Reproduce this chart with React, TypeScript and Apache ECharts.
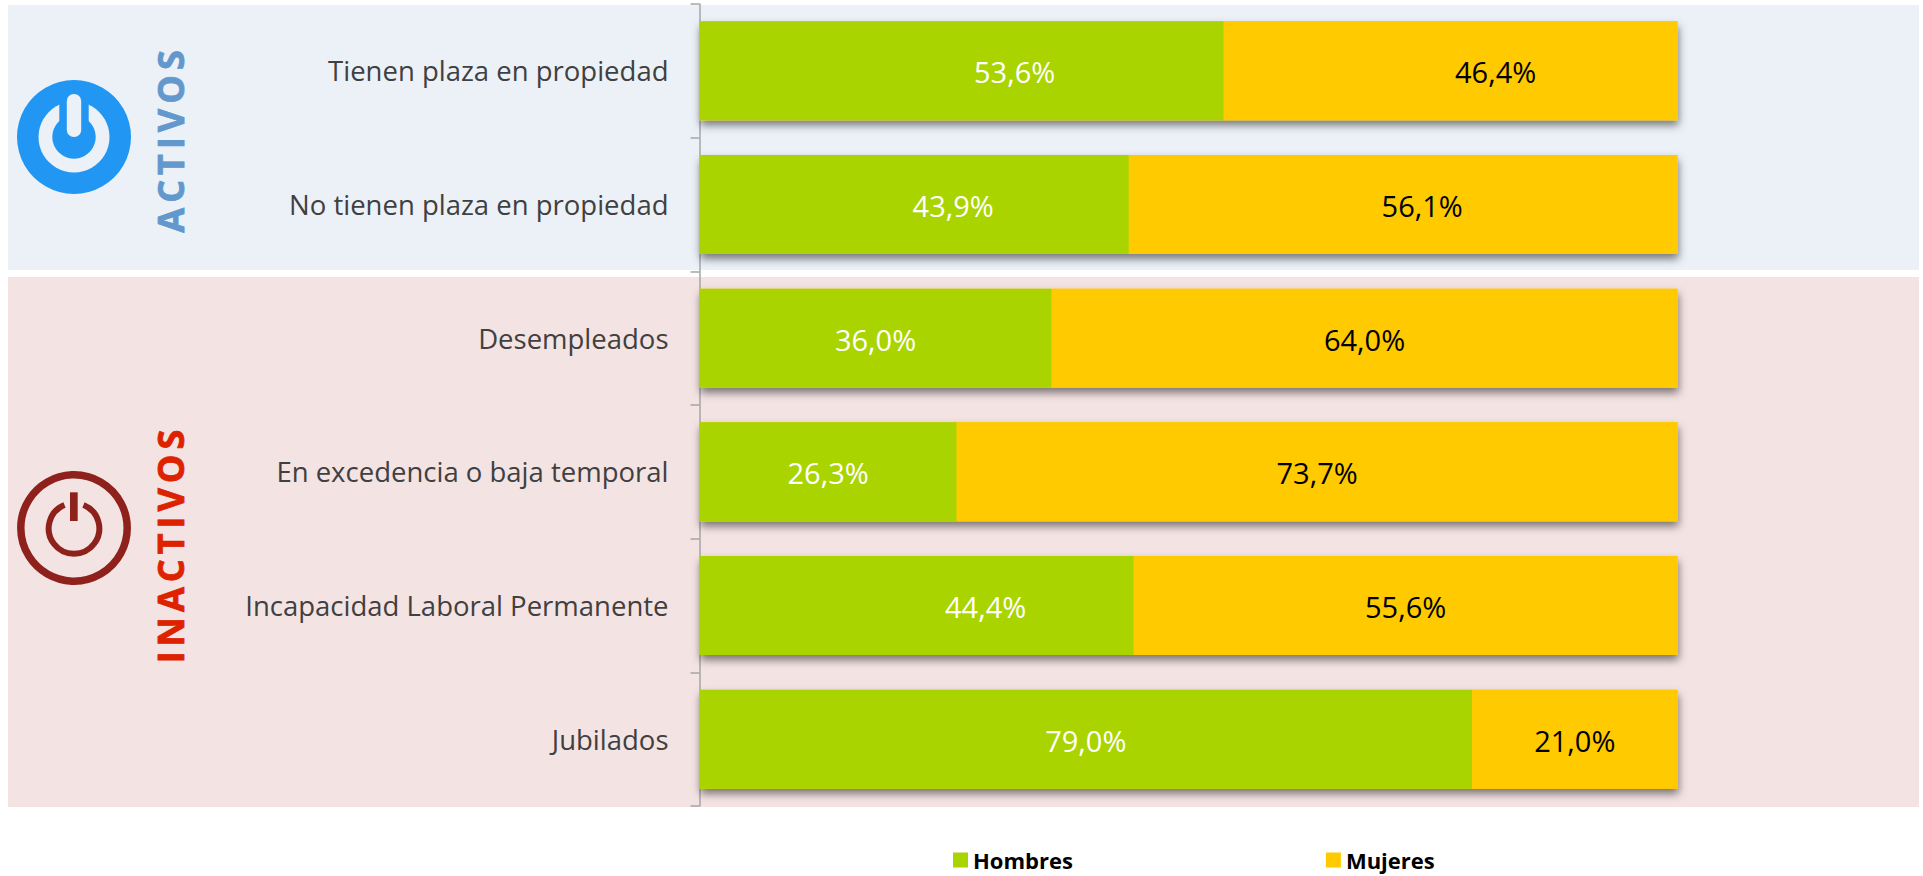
import React, { useEffect, useRef } from "react";
import * as echarts from "echarts";

const categories = [
  "Tienen plaza en propiedad",
  "No tienen plaza en propiedad",
  "Desempleados",
  "En excedencia o baja temporal",
  "Incapacidad Laboral Permanente",
  "Jubilados",
];
const hombres = [53.6, 43.9, 36.0, 26.3, 44.4, 79.0];
const mujeres = [46.4, 56.1, 64.0, 73.7, 55.6, 21.0];
const hombresLabelShift = [53, 39, 0, 0, 69, 0];
const mujeresLabelShift = [45, 19, 0, 0, 0, 0];

const BLUE_BG = "#ECF1F8";
const PINK_BG = "#F4E3E3";
const BLUE = "#2196F3";
const RED = "#8E211B";
const FONT = "'Open Sans', sans-serif";

const fmt = (v: number) => v.toFixed(1).replace(".", ",") + "%";
const deg = Math.PI / 180;

const sideText = (text: string, y: number, color: string) => ({
  type: "text",
  x: 170,
  y,
  rotation: Math.PI / 2,
  z: -1,
  style: {
    text,
    fill: color,
    stroke: color,
    lineWidth: 0.8,
    font: `bold 36px ${FONT}`,
    align: "center",
    verticalAlign: "middle",
  },
});

export default function App() {
  const ref = useRef<HTMLDivElement>(null);
  useEffect(() => {
    const chart = echarts.init(ref.current!, null, { renderer: "svg" });
    chart.setOption({
      animation: false,
      backgroundColor: "#fff",
      grid: { left: 699.5, width: 978, top: 4, height: 802 },
      legend: {
        left: 953,
        top: 849,
        padding: 0,
        itemWidth: 15,
        itemHeight: 15,
        itemGap: 253,
        selectedMode: false,
        textStyle: { fontFamily: FONT, fontSize: 22, fontWeight: "bold", color: "#000" },
        data: [
          { name: "Hombres", icon: "rect" },
          { name: "Mujeres", icon: "rect" },
        ],
      },
      xAxis: { type: "value", min: 0, max: 100, show: false },
      yAxis: {
        type: "category",
        inverse: true,
        data: categories,
        axisLine: { show: true, lineStyle: { color: "#A6A6A6", width: 1.5 } },
        axisTick: { show: true, length: 9, lineStyle: { color: "#A6A6A6", width: 1.5 } },
        axisLabel: {
          margin: 31,
          fontFamily: FONT,
          fontSize: 27.5,
          color: "#404040",
          verticalAlign: "top",
          padding: [-14, 0, 0, 0],
        },
      },
      series: [
        {
          name: "Total",
          type: "bar",
          barWidth: 99,
          barGap: "-100%",
          silent: true,
          itemStyle: {
            color: "#FFCA00",
            shadowColor: "rgba(0,0,0,0.5)",
            shadowBlur: 8,
            shadowOffsetX: 1,
            shadowOffsetY: 5,
          },
          data: hombres.map((h, i) => h + mujeres[i]),
        },
        {
          name: "Hombres",
          type: "bar",
          stack: "t",
          barWidth: 99,
          barGap: "-100%",
          itemStyle: { color: "#A9D400" },
          label: { show: true, position: "inside", color: "#fff", fontFamily: FONT, fontSize: 29, formatter: (p: any) => fmt(p.value) },
          data: hombres.map((value, i) => ({ value, label: { offset: [hombresLabelShift[i], 1] } })),
        },
        {
          name: "Mujeres",
          type: "bar",
          stack: "t",
          barWidth: 99,
          barGap: "-100%",
          itemStyle: { color: "#FFCA00" },
          label: { show: true, position: "inside", color: "#000", fontFamily: FONT, fontSize: 29, formatter: (p: any) => fmt(p.value) },
          data: mujeres.map((value, i) => ({ value, label: { offset: [mujeresLabelShift[i], 1] } })),
        },
      ],
      graphic: [
        { type: "rect", z: -10, shape: { x: 8, y: 5, width: 1911, height: 265 }, style: { fill: BLUE_BG } },
        { type: "rect", z: -10, shape: { x: 8, y: 277, width: 1911, height: 530 }, style: { fill: PINK_BG } },
        { type: "circle", z: -5, shape: { cx: 74, cy: 137, r: 57 }, style: { fill: BLUE } },
        { type: "circle", z: -4, shape: { cx: 74, cy: 137, r: 35.5 }, style: { fill: BLUE_BG } },
        { type: "circle", z: -3, shape: { cx: 74, cy: 137, r: 21.7 }, style: { fill: BLUE } },
        { type: "rect", z: -3, shape: { x: 59.3, y: 95, width: 29.4, height: 35 }, style: { fill: BLUE } },
        { type: "rect", z: -2, shape: { x: 66.8, y: 94, width: 14.4, height: 43, r: 7 }, style: { fill: BLUE_BG } },
        { type: "circle", z: -5, shape: { cx: 74, cy: 528, r: 53.2 }, style: { fill: "none", stroke: RED, lineWidth: 7.5 } },
        {
          type: "arc", z: -5,
          shape: { cx: 74, cy: 528.4, r: 25.3, startAngle: -68 * deg, endAngle: 248 * deg, clockwise: true },
          style: { fill: "none", stroke: RED, lineWidth: 6 },
        },
        { type: "rect", z: -5, shape: { x: 70, y: 492.3, width: 7.7, height: 28.7 }, style: { fill: RED } },
        sideText("ACTIVOS", 139, "#6398CC"),
        sideText("INACTIVOS", 544, "#DD2200"),
      ],
    });
    ref.current!.querySelectorAll("text").forEach((t) => {
      if (t.textContent === "ACTIVOS" || t.textContent === "INACTIVOS") t.setAttribute("letter-spacing", "5");
    });
    return () => chart.dispose();
  }, []);
  return <div ref={ref} style={{ position: "fixed", left: 0, top: 0, width: 1923, height: 876 }} />;
}
